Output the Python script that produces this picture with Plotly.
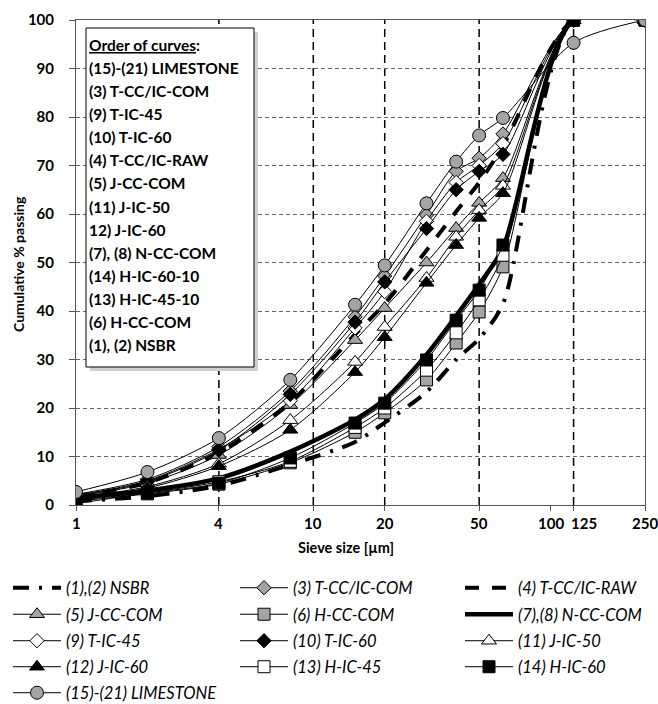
import math
import plotly.graph_objects as go

# Sieve sizes (µm) shared by every gradation curve
sizes = [1, 2, 4, 8, 15, 20, 30, 40, 50, 63, 125, 250]

# Cumulative % passing for each filler
nsbr = [0.8, 1.8, 4.0, 8.3, 13.0, 17.0, 23.3, 30.0, 34.3, 41.5, 100, 100]
t_cc_ic_com = [2.2, 5.3, 12.0, 23.5, 38.8, 47.2, 59.8, 68.8, 71.5, 76.5, 100, 100]
t_cc_ic_raw = [1.8, 4.6, 10.8, 21.2, 35.2, 41.5, 52.5, 60.5, 66.5, 74.0, 100, 100]
j_cc_com = [1.8, 4.5, 10.3, 20.6, 34.0, 40.6, 50.0, 57.1, 62.3, 67.4, 100, 100]
h_cc_com = [0.8, 2.3, 4.3, 8.7, 15.0, 19.0, 25.8, 33.4, 39.8, 49.1, 100, 100]
n_cc_com = [1.5, 3.0, 5.5, 11.0, 17.6, 21.8, 31.0, 39.0, 45.5, 53.0, 100, 100]
t_ic_45 = [2.0, 5.0, 11.5, 21.5, 36.5, 44.0, 58.5, 66.5, 70.0, 74.5, 100, 100]
t_ic_60 = [1.9, 4.8, 11.3, 22.8, 37.7, 46.0, 57.0, 65.0, 68.8, 72.3, 100, 100]
j_ic_50 = [1.5, 3.8, 8.5, 17.5, 29.5, 36.7, 46.8, 55.3, 60.8, 65.8, 100, 100]
j_ic_60 = [1.3, 3.5, 8.0, 15.5, 27.4, 34.6, 45.8, 53.6, 59.2, 64.3, 100, 100]
h_ic_45 = [0.3, 2.5, 4.8, 9.0, 16.0, 20.0, 27.8, 35.5, 42.3, 51.5, 100, 100]
h_ic_60 = [1.0, 2.5, 4.5, 9.7, 16.9, 21.0, 29.9, 38.1, 44.3, 53.6, 100, 100]
limestone = [2.7, 6.8, 13.8, 25.8, 41.3, 49.4, 62.2, 70.8, 76.2, 79.8, 95.3, 100]

# Tick labels and reference grid positions
x_ticks = [1, 4, 10, 20, 50, 100, 125, 250]
x_grid = [4, 10, 20, 50, 125]

# Text box listing the curves from top to bottom
order_lines = [
    "<u>Order of curves</u>:",
    "(15)-(21) LIMESTONE",
    "(3) T-CC/IC-COM",
    "(9) T-IC-45",
    "(10) T-IC-60",
    "(4) T-CC/IC-RAW",
    "(5) J-CC-COM",
    "(11) J-IC-50",
    "12) J-IC-60",
    "(7), (8) N-CC-COM",
    "(14) H-IC-60-10",
    "(13) H-IC-45-10",
    "(6) H-CC-COM",
    "(1), (2) NSBR",
]

FONT = "Lato"
GREY = "#a4a4a4"
W, H = 658, 704
L, R, T, B = 76, 13, 20, 199
PW, PH = W - L - R, H - T - B
X_MAX = math.log10(max(sizes))


def px_x(px):
    return (px - L) / PW


def px_y(py):
    return (H - B - py) / PH


series = [
    ("(1),(2) NSBR", nsbr, dict(width=4, dash="16px,10px,3px,10px"), None),
    ("(3) T-CC/IC-COM", t_cc_ic_com, dict(width=1), dict(symbol="diamond", color=GREY, size=11)),
    ("(4) T-CC/IC-RAW", t_cc_ic_raw, dict(width=4, dash="14px,13px"), None),
    ("(5) J-CC-COM", j_cc_com, dict(width=1), dict(symbol="triangle-up", color=GREY, size=13)),
    ("(6) H-CC-COM", h_cc_com, dict(width=1), dict(symbol="square", color=GREY, size=12)),
    ("(7),(8) N-CC-COM", n_cc_com, dict(width=4.5), None),
    ("(9) T-IC-45", t_ic_45, dict(width=1), dict(symbol="diamond", color="white", size=11)),
    ("(10) T-IC-60", t_ic_60, dict(width=1), dict(symbol="diamond", color="black", size=11)),
    ("(11) J-IC-50", j_ic_50, dict(width=1), dict(symbol="triangle-up", color="white", size=13)),
    ("(12) J-IC-60", j_ic_60, dict(width=1), dict(symbol="triangle-up", color="black", size=13)),
    ("(13) H-IC-45", h_ic_45, dict(width=1), dict(symbol="square", color="white", size=12)),
    ("(14) H-IC-60", h_ic_60, dict(width=1), dict(symbol="square", color="black", size=12)),
    ("(15)-(21) LIMESTONE", limestone, dict(width=1), dict(symbol="circle", color=GREY, size=13)),
]

# Legend grid: three columns, five rows below the chart
col_left = [8, 235, 460]
row_centers = [588, 614.5, 641, 667, 693]

fig = go.Figure()
legends = {}
legend_style = dict(orientation="h", xanchor="left", yanchor="middle", itemwidth=48,
                    font=dict(family=FONT, size=16.5, style="italic", color="black"),
                    bgcolor="rgba(0,0,0,0)")
for i, (name, vals, line, marker) in enumerate(series):
    lid = "legend" if i == 0 else f"legend{i + 1}"
    legends[lid] = dict(x=px_x(col_left[i % 3]), y=px_y(row_centers[i // 3]), **legend_style)
    line = dict(color="black", shape="spline", smoothing=0.8, **line)
    kw = dict(x=sizes, y=vals, name=name, line=line, legend=lid)
    if marker is None:
        fig.add_trace(go.Scatter(mode="lines", **kw))
    else:
        marker = dict(line=dict(color="black", width=1), **marker)
        fig.add_trace(go.Scatter(mode="lines+markers", marker=marker, **kw))

shapes = []
for g in x_grid:
    shapes.append(dict(type="line", xref="x", yref="paper", x0=g, x1=g, y0=0, y1=1,
                       line=dict(color="black", width=1.5, dash="8px,5px"), layer="below"))

# Curve-order box with a soft drop shadow
bx0, bx1, by0, by1 = 86, 254, 28, 367
shapes.append(dict(type="rect", xref="paper", yref="paper",
                   x0=px_x(bx0 + 4), x1=px_x(bx1 + 4), y0=px_y(by1 + 4), y1=px_y(by0 + 4),
                   fillcolor="#cfcfcf", line=dict(width=0), layer="above"))
shapes.append(dict(type="rect", xref="paper", yref="paper",
                   x0=px_x(bx0), x1=px_x(bx1), y0=px_y(by1), y1=px_y(by0),
                   fillcolor="white", line=dict(color="black", width=1), layer="above"))

annotations = []
for i, txt in enumerate(order_lines):
    annotations.append(dict(text=txt, xref="paper", yref="paper", x=px_x(87), y=px_y(45 + 23.08 * i),
                            xanchor="left", yanchor="middle", showarrow=False,
                            font=dict(family=FONT, size=15.5, color="black", weight="bold")))

# x tick labels; 125 nudged right so it clears 100
for v in x_ticks:
    annotations.append(dict(text=str(v), xref="x", yref="paper", x=math.log10(v),
                            y=px_y(523), xanchor="center", yanchor="middle", showarrow=False,
                            xshift=10 if v == 125 else 0,
                            font=dict(family=FONT, size=15, color="black", weight="bold")))

annotations.append(dict(text="Sieve size [µm]", xref="paper", yref="paper", x=px_x(346), y=px_y(547),
                        xanchor="center", yanchor="middle", showarrow=False,
                        font=dict(family=FONT, size=14.5, color="black", weight="bold")))
annotations.append(dict(text="Cumulative % passing", xref="paper", yref="paper", x=px_x(18),
                        y=px_y(264), textangle=-90, xanchor="center", yanchor="middle",
                        showarrow=False,
                        font=dict(family=FONT, size=14, color="black", weight="bold")))

fig.update_layout(
    width=W, height=H,
    margin=dict(l=L, r=R, t=T, b=B, autoexpand=False),
    paper_bgcolor="white", plot_bgcolor="white",
    font=dict(family=FONT, color="black"),
    showlegend=True,
    shapes=shapes,
    annotations=annotations,
    xaxis=dict(type="log", range=[0, X_MAX], tickvals=x_ticks, showticklabels=False,
               showgrid=False, zeroline=False, ticks="outside", ticklen=5,
               tickcolor="#555", showline=True, linecolor="#555", linewidth=1, mirror=True),
    yaxis=dict(range=[0, 100], dtick=10, showgrid=True, gridcolor="#666", griddash="4px,3px",
               gridwidth=1, zeroline=False, ticks="outside", ticklen=6, tickcolor="#555",
               ticklabelstandoff=12,
               showline=True, linecolor="#555", linewidth=1, mirror=True,
               tickfont=dict(family=FONT, size=15, weight="bold")),
    **legends,
)

fig.write_html("out.html")
